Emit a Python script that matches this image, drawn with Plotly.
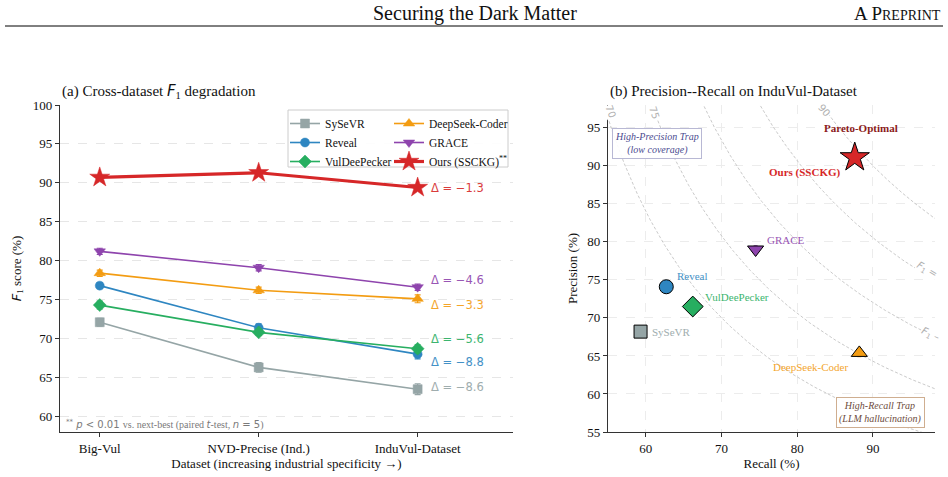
import numpy as np
import plotly.graph_objects as go

# ---------------- data ----------------
categories = ["Big-Vul", "NVD-Precise (Ind.)", "InduVul-Dataset"]
methods = ["SySeVR", "Reveal", "VulDeePecker", "DeepSeek-Coder", "GRACE", "Ours (SSCKG)"]

f1_sysevr = [72.1, 66.3, 63.5]
f1_reveal = [76.8, 71.4, 68.0]
f1_vuldeepecker = [74.3, 70.8, 68.7]
f1_deepseek = [78.4, 76.2, 75.1]
f1_grace = [81.2, 79.1, 76.6]
f1_ours = [90.7, 91.3, 89.4]

err_sysevr = [0.5, 0.6, 0.7]
err_reveal = [0.4, 0.5, 0.6]
err_vuldeepecker = [0.5, 0.4, 0.5]
err_deepseek = [0.4, 0.4, 0.5]
err_grace = [0.4, 0.4, 0.4]
err_ours = [0.3, 0.3, 0.3]

recall = [59.3, 62.7, 66.2, 88.2, 74.5, 87.6]
precision = [68.2, 74.1, 71.5, 65.4, 79.0, 91.1]
recall_err = [0.6, 0.6, 0.5, 0.5, 0.5, 0.4]
precision_err = [0.5, 0.5, 0.5, 0.5, 0.5, 0.4]

iso_f1_levels = [70, 75, 80, 85, 90]

# ---------------- styles ----------------
colors = ["#95a5a6", "#2e86c1", "#27ae60", "#f39c12", "#8e44ad", "#d62728"]
symbols_l = ["square", "circle", "diamond", "triangle-up", "triangle-down", "star"]
sizes_l = [9, 9, 10, 10, 10, 15]
widths_l = [1.6, 1.6, 1.6, 1.6, 1.6, 3.2]
sizes_r = [13, 14, 16, 14, 14, 22]
SERIF = "Liberation Serif"
SANS = "DejaVu Sans"

f1_all = [f1_sysevr, f1_reveal, f1_vuldeepecker, f1_deepseek, f1_grace, f1_ours]
err_all = [err_sysevr, err_reveal, err_vuldeepecker, err_deepseek, err_grace, err_ours]
xs = list(range(len(categories)))

fig = go.Figure()

legend_of = ["legend", "legend", "legend", "legend2", "legend2", "legend2"]
for i, m in enumerate(methods):
    name = m + ("<sup>**</sup>" if i == 5 else "")
    fig.add_trace(go.Scatter(
        x=xs, y=f1_all[i], mode="lines+markers", name=name,
        line=dict(color=colors[i], width=widths_l[i]),
        marker=dict(symbol=symbols_l[i], size=sizes_l[i], color=colors[i],
                    line=dict(color=colors[i], width=0.5)),
        error_y=dict(type="data", array=err_all[i], color=colors[i], thickness=1.2, width=3),
        xaxis="x", yaxis="y", legend=legend_of[i], showlegend=True,
    ))

# iso-F1 curves
for F in iso_f1_levels:
    r = np.linspace(F * 99 / (2 * 99 - F), 100, 500)
    p = F * r / (2 * r - F)
    fig.add_trace(go.Scatter(
        x=r, y=p, mode="lines", line=dict(color="#bdbdbd", width=0.8, dash="3px,2px"),
        xaxis="x2", yaxis="y2", showlegend=False, hoverinfo="skip",
    ))

for i, m in enumerate(methods):
    fig.add_trace(go.Scatter(
        x=[recall[i]], y=[precision[i]], mode="markers", showlegend=False,
        marker=dict(symbol=symbols_l[i], size=sizes_r[i], color=colors[i],
                    line=dict(color="black", width=1)),
        error_x=dict(type="data", array=[recall_err[i]], color=colors[i], thickness=1, width=2),
        error_y=dict(type="data", array=[precision_err[i]], color=colors[i], thickness=1, width=2),
        xaxis="x2", yaxis="y2",
    ))

annotations = []

# delta labels (panel a)
delta_shift = [2, -8, 10, -6, 7, 0]
for i, m in enumerate(methods):
    d = f1_all[i][-1] - f1_all[i][0]
    annotations.append(dict(
        x=2.07, y=f1_all[i][-1], xref="x", yref="y", xanchor="left", yanchor="middle",
        text="Δ = " + ("−" if d < 0 else "+") + f"{abs(d):.1f}", showarrow=False,
        yshift=delta_shift[i], font=dict(family=SANS, size=11.5, color=colors[i]), opacity=0.9,
    ))

# point labels (panel b)
lab = {
    "SySeVR": dict(xanchor="left", xshift=9, yshift=0),
    "Reveal": dict(xanchor="left", xshift=9, yshift=11),
    "VulDeePecker": dict(xanchor="left", xshift=10, yshift=10),
    "DeepSeek-Coder": dict(xanchor="right", xshift=-9, yshift=-14),
    "GRACE": dict(xanchor="left", xshift=9, yshift=9),
}
for i, m in enumerate(methods[:5]):
    annotations.append(dict(
        x=recall[i], y=precision[i], xref="x2", yref="y2", yanchor="middle",
        text=m, showarrow=False, font=dict(family=SERIF, size=11, color=colors[i]),
        opacity=0.9, **lab[m]))
annotations.append(dict(
    x=recall[5], y=precision[5], xref="x2", yref="y2", xanchor="right", yanchor="middle",
    xshift=-12, yshift=-15, text="<b>Ours (SSCKG)</b>", showarrow=False,
    font=dict(family=SERIF, size=11, color="#d62728")))
annotations.append(dict(
    x=recall[5], y=precision[5], xref="x2", yref="y2", xanchor="center", yanchor="middle",
    xshift=6, yshift=29, text="<b>Pareto-Optimal</b>", showarrow=False,
    font=dict(family=SERIF, size=11, color="#8b1a1a")))

annotations.append(dict(
    x=61.45, y=93.0, xref="x2", yref="y2", text="<i>High-Precision Trap</i><br><i>(low coverage)</i>",
    showarrow=False, font=dict(family=SERIF, size=10, color="#4b4b8f"),
    bgcolor="rgba(255,255,255,0.9)", bordercolor="#b8b8d4", borderwidth=1, borderpad=2))
annotations.append(dict(
    x=91.0, y=57.6, xref="x2", yref="y2", text="<i>High-Recall Trap</i><br><i>(LLM hallucination)</i>",
    showarrow=False, font=dict(family=SERIF, size=10, color="#6d4c3d"),
    bgcolor="rgba(255,255,255,0.9)", bordercolor="#cfae90", borderwidth=1, borderpad=2))

# iso-F1 labels
iso_lab = [
    dict(x=55.4, y=97.2, text="70", textangle=70),
    dict(x=61.1, y=97.0, text="75", textangle=72),
    dict(x=83.6, y=97.3, text="90", textangle=50),
    dict(x=97.2, y=76.3, text="<i>F</i><sub>1</sub> =", textangle=30),
    dict(x=97.5, y=67.8, text="<i>F</i><sub>1</sub> –", textangle=25),
]
for a in iso_lab:
    annotations.append(dict(xref="x2", yref="y2", showarrow=False, bgcolor="white",
                            font=dict(family=SANS, size=10, color="#b0b0b0"), borderpad=0, **a))

# titles and header
annotations += [
    dict(x=60 / 948, y=1 - 91 / 477, xref="paper", yref="paper", xanchor="left", yanchor="middle",
         text="(a) Cross-dataset <i><span style='font-family:DejaVu Sans'>F</span></i><sub>1</sub> degradation",
         showarrow=False, font=dict(family=SERIF, size=15, color="#111")),
    dict(x=608 / 948, y=1 - 91 / 477, xref="paper", yref="paper", xanchor="left", yanchor="middle",
         text="(b) Precision--Recall on InduVul-Dataset", showarrow=False,
         font=dict(family=SERIF, size=15, color="#111")),
    dict(x=475 / 948, y=1 - 14 / 477, xref="paper", yref="paper", xanchor="center", yanchor="middle",
         text="Securing the Dark Matter", showarrow=False, font=dict(family=SERIF, size=20, color="#111")),
    dict(x=943 / 948, y=1 - 14 / 477, xref="paper", yref="paper", xanchor="right", yanchor="middle",
         text="A P<span style='font-size:14px'>REPRINT</span>", showarrow=False,
         font=dict(family=SERIF, size=19, color="#111")),
    dict(x=64 / 948, y=1 - 424 / 477, xref="paper", yref="paper", xanchor="left", yanchor="middle",
         text="<sup>**</sup> <i>p</i> < 0.01 <span style='font-family:Liberation Serif'>vs. next-best (paired </span><i>t</i><span style='font-family:Liberation Serif'>-test, </span><i>n</i> = 5<span style='font-family:Liberation Serif'>)</span>",
         showarrow=False, font=dict(family=SANS, size=10, color="#7a7a7a")),
]

shapes = [
    dict(type="line", xref="paper", yref="paper", x0=5 / 948, x1=943 / 948,
         y0=1 - 26 / 477, y1=1 - 26 / 477, line=dict(color="black", width=1)),
    dict(type="rect", xref="paper", yref="paper", x0=288 / 948, x1=508 / 948,
         y0=1 - 167 / 477, y1=1 - 110 / 477, line=dict(color="#cccccc", width=1),
         fillcolor="rgba(255,255,255,0.9)", layer="above"),
]

axis_common = dict(showline=True, linecolor="#333", linewidth=1.2, ticks="outside",
                   ticklen=4, tickcolor="#333", zeroline=False, mirror=False, automargin=False,
                   tickfont=dict(family=SERIF, size=13, color="#111"))

fig.update_layout(
    width=948, height=477, margin=dict(l=0, r=0, t=0, b=0, autoexpand=False),
    paper_bgcolor="white", plot_bgcolor="white",
    xaxis=dict(domain=[60 / 948, 513 / 948], anchor="y", range=[-0.25, 2.6],
               tickvals=xs, ticktext=categories, showgrid=False,
               title=dict(text="Dataset (increasing industrial specificity →)",
                          font=dict(family=SERIF, size=13, color="#111"), standoff=4),
               **axis_common),
    yaxis=dict(domain=[45 / 477, 372 / 477], anchor="x", range=[58, 100],
               tickvals=[60, 65, 70, 75, 80, 85, 90, 95, 100], showgrid=True,
               gridcolor="#e6e6e6", griddash="dash", gridwidth=0.8,
               title=dict(text="<i><span style='font-family:DejaVu Sans'>F</span></i><sub>1</sub> score (%)",
                          font=dict(family=SERIF, size=13, color="#111"), standoff=8),
               **axis_common),
    xaxis2=dict(domain=[608 / 948, 935 / 948], anchor="y2", range=[55, 98.2],
                tickvals=[60, 70, 80, 90], showgrid=True, gridcolor="#ececec", griddash="dash",
                gridwidth=0.8,
                title=dict(text="Recall (%)", font=dict(family=SERIF, size=13, color="#111"), standoff=4),
                **axis_common),
    yaxis2=dict(domain=[45 / 477, 372 / 477], anchor="x2", range=[55, 98],
                tickvals=[55, 60, 65, 70, 75, 80, 85, 90, 95], showgrid=True, gridcolor="#ececec",
                griddash="dash", gridwidth=0.8,
                title=dict(text="Precision (%)", font=dict(family=SERIF, size=13, color="#111"), standoff=6),
                **axis_common),
    legend=dict(x=285 / 948, y=1 - 109 / 477, xanchor="left", yanchor="top",
                bgcolor="rgba(0,0,0,0)", borderwidth=0, font=dict(family=SERIF, size=11.5, color="#111"),
                tracegroupgap=0),
    legend2=dict(x=389 / 948, y=1 - 109 / 477, xanchor="left", yanchor="top",
                 bgcolor="rgba(0,0,0,0)", borderwidth=0, font=dict(family=SERIF, size=11.5, color="#111"),
                 tracegroupgap=0),
    annotations=annotations, shapes=shapes, showlegend=True,
)

fig.write_html("out.html")
